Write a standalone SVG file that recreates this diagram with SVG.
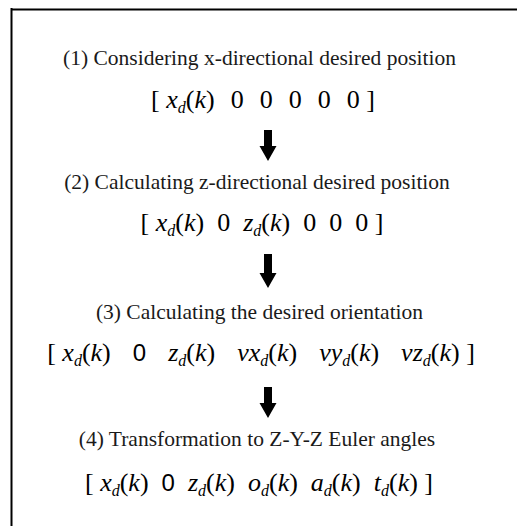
<svg xmlns="http://www.w3.org/2000/svg" width="517" height="526" viewBox="0 0 517 526">
<style>
.t{font-family:"Liberation Serif","Times New Roman",serif;font-size:21.5px;fill:#1a1a1a;text-anchor:middle}
.f{font-family:"Liberation Serif","Times New Roman",serif;font-size:26px;fill:#000;text-anchor:middle}
.i{font-style:italic}
.s{font-style:italic;font-size:16px}
.z{font-family:"Liberation Sans",Arial,sans-serif;font-size:24px}
.arrow{fill:#000}
.frame{stroke:#000;stroke-width:2;fill:none}
</style>
<g id="frame"><path class="frame" d="M11.5,8 V526 M10.5,9.5 H517"/></g>
<g id="step1">
<text class="t" x="259.5" y="65">(1) Considering x-directional desired position</text>
<text class="f" font-family="Liberation Serif, serif" x="263" y="108" xml:space="preserve">[ <tspan class="i">x</tspan><tspan class="s" dy="5">d</tspan><tspan dy="-5">(</tspan><tspan class="i">k</tspan>)  <tspan dx="3">0</tspan>  <tspan dx="3">0</tspan>  <tspan dx="3">0</tspan>  <tspan dx="3">0</tspan>  <tspan dx="3">0</tspan> ]</text>
</g>
<g id="step2">
<text class="t" x="257" y="189">(2) Calculating z-directional desired position</text>
<text class="f" font-family="Liberation Serif, serif" x="262" y="231" xml:space="preserve">[ <tspan class="i">x</tspan><tspan class="s" dy="5">d</tspan><tspan dy="-5">(</tspan><tspan class="i">k</tspan>)  0  <tspan class="i">z</tspan><tspan class="s" dy="5">d</tspan><tspan dy="-5">(</tspan><tspan class="i">k</tspan>)  0  0  0 ]</text>
</g>
<g id="step3">
<text class="t" x="259.5" y="319">(3) Calculating the desired orientation</text>
<text class="f" font-family="Liberation Serif, serif" x="261" y="361" xml:space="preserve">[ <tspan class="i">x</tspan><tspan class="s" dy="5">d</tspan><tspan dy="-5">(</tspan><tspan class="i">k</tspan>)  <tspan class="z" dx="9">0</tspan>  <tspan class="i" dx="9">z</tspan><tspan class="s" dy="5">d</tspan><tspan dy="-5">(</tspan><tspan class="i">k</tspan>)  <tspan class="i" dx="9">vx</tspan><tspan class="s" dy="5">d</tspan><tspan dy="-5">(</tspan><tspan class="i">k</tspan>)  <tspan class="i" dx="9">vy</tspan><tspan class="s" dy="5">d</tspan><tspan dy="-5">(</tspan><tspan class="i">k</tspan>)  <tspan class="i" dx="9">vz</tspan><tspan class="s" dy="5">d</tspan><tspan dy="-5">(</tspan><tspan class="i">k</tspan>) ]</text>
</g>
<g id="step4">
<text class="t" x="257" y="446">(4) Transformation to Z-Y-Z Euler angles</text>
<text class="f" font-family="Liberation Serif, serif" x="259" y="491" xml:space="preserve">[ <tspan class="i">x</tspan><tspan class="s" dy="5">d</tspan><tspan dy="-5">(</tspan><tspan class="i">k</tspan>)  <tspan class="z">0</tspan>  <tspan class="i">z</tspan><tspan class="s" dy="5">d</tspan><tspan dy="-5">(</tspan><tspan class="i">k</tspan>)  <tspan class="i">o</tspan><tspan class="s" dy="5">d</tspan><tspan dy="-5">(</tspan><tspan class="i">k</tspan>)  <tspan class="i">a</tspan><tspan class="s" dy="5">d</tspan><tspan dy="-5">(</tspan><tspan class="i">k</tspan>)  <tspan class="i">t</tspan><tspan class="s" dy="5">d</tspan><tspan dy="-5">(</tspan><tspan class="i">k</tspan>) ]</text>
</g>
<g id="connectors">
<polygon class="arrow" points="264,130 272,130 272,146 276.5,146 268,161 259.5,146 264,146"/>
<polygon class="arrow" points="264,254 272,254 272,273 276.5,273 268,288 259.5,273 264,273"/>
<polygon class="arrow" points="264,387 272,387 272,403 276.5,403 268,418 259.5,403 264,403"/>
</g>
</svg>
